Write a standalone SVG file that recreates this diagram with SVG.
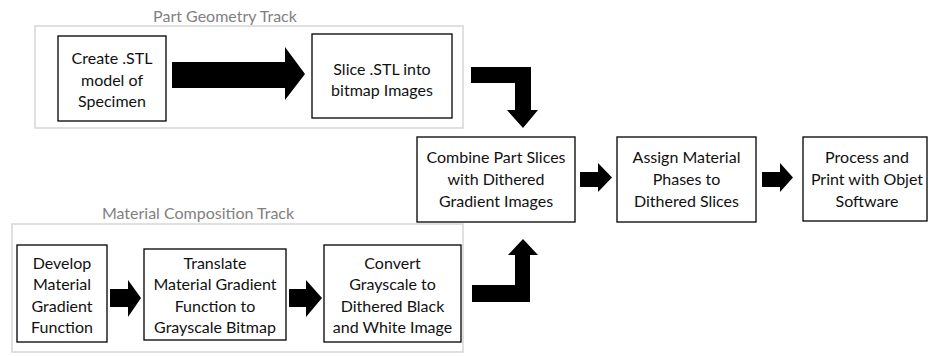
<svg xmlns="http://www.w3.org/2000/svg" width="928" height="356" viewBox="0 0 928 356">
  <defs>
    <style>
      .track { fill: none; stroke: #d6d6d6; stroke-width: 1.5; }
      .title { font-family: Lato, "Open Sans", "Liberation Sans", sans-serif; font-size: 16px; fill: #7f7f7f; text-anchor: middle; }
      .box { fill: #ffffff; stroke: #000000; stroke-width: 1.3; }
      .label { font-family: Lato, "Open Sans", "Liberation Sans", sans-serif; font-size: 16px; fill: #111111; text-anchor: middle; }
      .arrow { fill: #000000; stroke: none; }
    </style>
  </defs>
  <rect width="928" height="356" fill="#ffffff"/>

  <!-- track frames -->
  <g id="track-part">
    <rect class="track" x="35" y="26" width="428" height="102"/>
    <text class="title" x="225" y="22">Part Geometry Track</text>
  </g>
  <g id="track-material">
    <rect class="track" x="12" y="224" width="451" height="128"/>
    <text class="title" x="198" y="219">Material Composition Track</text>
  </g>

  <!-- process steps -->
  <g id="create-stl">
    <rect class="box" x="58" y="36" width="108" height="85"/>
    <text class="label" x="112" y="64">Create .STL</text>
    <text class="label" x="112" y="86">model of</text>
    <text class="label" x="112" y="107">Specimen</text>
  </g>
  <g id="slice-stl">
    <rect class="box" x="312" y="34" width="140" height="84"/>
    <text class="label" x="382" y="75">Slice .STL into</text>
    <text class="label" x="382" y="96">bitmap Images</text>
  </g>
  <g id="combine">
    <rect class="box" x="417" y="137" width="158" height="85"/>
    <text class="label" x="496" y="163">Combine Part Slices</text>
    <text class="label" x="496" y="185">with Dithered</text>
    <text class="label" x="496" y="207">Gradient Images</text>
  </g>
  <g id="assign">
    <rect class="box" x="617" y="137" width="139" height="85"/>
    <text class="label" x="686.5" y="163">Assign Material</text>
    <text class="label" x="686.5" y="185">Phases to</text>
    <text class="label" x="686.5" y="207">Dithered Slices</text>
  </g>
  <g id="print">
    <rect class="box" x="803" y="137" width="124" height="84"/>
    <text class="label" x="867" y="163">Process and</text>
    <text class="label" x="867" y="185">Print with Objet</text>
    <text class="label" x="867" y="207">Software</text>
  </g>
  <g id="develop">
    <rect class="box" x="17" y="245" width="90" height="97"/>
    <text class="label" x="62" y="268.5">Develop</text>
    <text class="label" x="62" y="290">Material</text>
    <text class="label" x="62" y="311.5">Gradient</text>
    <text class="label" x="62" y="333">Function</text>
  </g>
  <g id="translate">
    <rect class="box" x="144" y="249" width="142" height="91"/>
    <text class="label" x="215" y="268.5">Translate</text>
    <text class="label" x="215" y="290">Material Gradient</text>
    <text class="label" x="215" y="311.5">Function to</text>
    <text class="label" x="215" y="333">Grayscale Bitmap</text>
  </g>
  <g id="convert">
    <rect class="box" x="324" y="245" width="137" height="97"/>
    <text class="label" x="392.5" y="268.5">Convert</text>
    <text class="label" x="392.5" y="290">Grayscale to</text>
    <text class="label" x="392.5" y="311.5">Dithered Black</text>
    <text class="label" x="392.5" y="333">and White Image</text>
  </g>

  <!-- block arrows -->
  <g id="connectors">
    <polygon class="arrow" points="172,62 285,62 285,47 305,74 285,100 285,88 172,88"/>
    <polygon class="arrow" points="471,67 531,67 531,110 538,110 523,128 507,110 515,110 515,83 471,83"/>
    <polygon class="arrow" points="472,302 530,302 530,255 538,255 523,239 508,255 515,255 515,285 472,285"/>
    <polygon class="arrow" points="580,172 598,172 598,163 612,177.5 598,192 598,187 580,187"/>
    <polygon class="arrow" points="762,172 780,172 780,163 793,177.5 780,192 780,187 762,187"/>
    <polygon class="arrow" points="110,289 128,289 128,280 141,298 128,317 128,307 110,307"/>
    <polygon class="arrow" points="289,289 306,289 306,280 322,298 306,317 306,307 289,307"/>
  </g>
</svg>
